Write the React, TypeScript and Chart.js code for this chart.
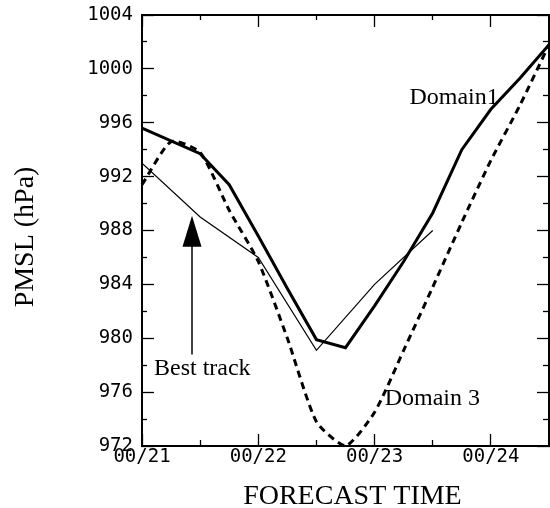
import React, { useEffect, useRef } from "react";
import { Chart, registerables } from "chart.js";

Chart.register(...registerables);

// ---- data ----
const dayTicks = [0, 1, 2, 3];
const tickLabels = ["00/21", "00/22", "00/23", "00/24"];

const domain1Times = [0, 0.5, 0.75, 1, 1.25, 1.5, 1.75, 2, 2.25, 2.5, 2.75, 3, 3.25, 3.5];
const domain1Values = [995.6, 993.7, 991.4, 987.6, 983.7, 979.9, 979.3, 982.4, 985.7, 989.3, 994.0, 997.0, 999.3, 1001.8];

const domain3Times = [0, 0.25, 0.5, 0.75, 1, 1.25, 1.5, 1.75, 2, 2.25, 2.5, 2.75, 3, 3.25, 3.5];
const domain3Values = [991.4, 994.6, 993.8, 989.5, 985.7, 980.0, 973.8, 972.0, 974.5, 979.1, 983.8, 988.6, 993.2, 997.3, 1001.8];

const bestTimes = [0, 0.5, 1, 1.5, 2, 2.5];
const bestValues = [993.0, 989.0, 986.0, 979.1, 984.0, 988.0];

// annotation anchors in data coordinates
const noteTexts = ["Best track", "Domain1", "Domain 3"];
const noteX = [0.103, 2.30, 2.087];
const noteY = [977.3, 997.4, 975.05];
const arrowX = 0.43;
const arrowTip = 989.1;
const arrowTail = 978.8;

const X_MIN = 0, X_MAX = 3.5, Y_MIN = 972, Y_MAX = 1004;

const isInt = (v: any) => typeof v === "number" && Math.abs(v - Math.round(v)) < 1e-6;
const isY4 = (v: any) => typeof v === "number" && Math.abs(v % 4) < 1e-6;

const pts = (xs: number[], ys: number[]) => xs.map((x, i) => ({ x, y: ys[i] }));

const zeroPad = (s: any) => {
  s.paddingLeft = 0;
  s.paddingRight = 0;
  s.paddingTop = 0;
  s.paddingBottom = 0;
};

const annotate = {
  id: "annotate",
  afterDatasetsDraw(chart: any) {
    const { ctx } = chart;
    const xs = chart.scales.x;
    const ys = chart.scales.y;
    ctx.save();
    ctx.fillStyle = "#000";
    ctx.strokeStyle = "#000";
    ctx.font = '24px "Liberation Serif"';
    ctx.textAlign = "left";
    ctx.textBaseline = "alphabetic";
    noteTexts.forEach((t, i) => {
      ctx.fillText(t, xs.getPixelForValue(noteX[i]), ys.getPixelForValue(noteY[i]));
    });
    const ax = xs.getPixelForValue(arrowX);
    const ty = ys.getPixelForValue(arrowTip);
    const by = ys.getPixelForValue(arrowTail);
    ctx.lineWidth = 1.5;
    ctx.beginPath();
    ctx.moveTo(ax, ty + 20);
    ctx.lineTo(ax, by);
    ctx.stroke();
    ctx.beginPath();
    ctx.moveTo(ax, ty);
    ctx.lineTo(ax - 9.5, ty + 31);
    ctx.lineTo(ax + 9.5, ty + 31);
    ctx.closePath();
    ctx.fill();

    // axis titles
    const ca = chart.chartArea;
    ctx.font = '28px "Liberation Serif"';
    ctx.textAlign = "center";
    ctx.fillText("FORECAST TIME", ca.left + ca.width * 0.517, chart.height - 4);
    ctx.save();
    ctx.translate(33, ca.top + ca.height * 0.515);
    ctx.rotate(-Math.PI / 2);
    ctx.fillText("PMSL (hPa)", 0, 0);
    ctx.restore();
    ctx.restore();
  },
};

const tickFont = { family: '"DejaVu Sans Mono"', size: 19 };

export default function App() {
  const ref = useRef<HTMLCanvasElement>(null);
  useEffect(() => {
    const chart = new Chart(ref.current as HTMLCanvasElement, {
      type: "line",
      data: {
        datasets: [
          {
            label: "Domain1",
            data: pts(domain1Times, domain1Values),
            borderColor: "#000",
            borderWidth: 3,
            pointRadius: 0,
            tension: 0,
            fill: false,
          },
          {
            label: "Domain 3",
            data: pts(domain3Times, domain3Values),
            borderColor: "#000",
            borderWidth: 3,
            borderDash: [7, 5],
            pointRadius: 0,
            tension: 0.2,
            fill: false,
            clip: false,
          },
          {
            label: "Best track",
            data: pts(bestTimes, bestValues),
            borderColor: "#000",
            borderWidth: 1.2,
            pointRadius: 0,
            tension: 0,
            fill: false,
          },
        ],
      },
      options: {
        animation: false,
        responsive: false,
        devicePixelRatio: 1,
        layout: { padding: { left: 0, top: 15, right: 1, bottom: 0 } },
        plugins: { legend: { display: false }, tooltip: { enabled: false } },
        scales: {
          x: {
            type: "linear",
            position: "bottom",
            min: X_MIN,
            max: X_MAX,
            ticks: {
              stepSize: 0.5,
              autoSkip: false,
              maxRotation: 0,
              minRotation: 0,
              padding: 12,
              color: "#000",
              font: tickFont,
              callback: (v: any) => {
                const i = dayTicks.indexOf(Number(v));
                return i >= 0 ? tickLabels[i] : "";
              },
            },
            grid: {
              drawOnChartArea: false,
              drawTicks: true,
              tickLength: -12,
              tickColor: "#000",
              tickWidth: 1.3,
              tickBorderDash: (c: any) => (isInt(c.tick?.value) ? [] : [7, 40]),
            },
            border: { display: true, color: "#000", width: 2 },
            afterFit: (s: any) => {
              s.height = 62;
              zeroPad(s);
            },
          },
          xTop: {
            type: "linear",
            position: "top",
            min: X_MIN,
            max: X_MAX,
            ticks: { display: false, stepSize: 0.5, autoSkip: false },
            grid: {
              drawOnChartArea: false,
              drawTicks: true,
              tickLength: -12,
              tickColor: "#000",
              tickWidth: 1.3,
              tickBorderDash: (c: any) => (isInt(c.tick?.value) ? [] : [7, 7]),
              tickBorderDashOffset: (c: any) => (isInt(c.tick?.value) ? 0 : 7),
            },
            border: { display: true, color: "#000", width: 2 },
            afterFit: (s: any) => {
              s.height = 0;
              zeroPad(s);
            },
          },
          y: {
            type: "linear",
            position: "left",
            min: Y_MIN,
            max: Y_MAX,
            ticks: {
              stepSize: 2,
              autoSkip: false,
              padding: 21,
              color: "#000",
              font: tickFont,
              callback: (v: any) => (isY4(Number(v)) ? String(v) : ""),
            },
            grid: {
              drawOnChartArea: false,
              drawTicks: true,
              tickLength: -12,
              tickColor: "#000",
              tickWidth: 1.3,
              tickBorderDash: (c: any) => (isY4(c.tick?.value) ? [] : [7, 7]),
              tickBorderDashOffset: (c: any) => (isY4(c.tick?.value) ? 0 : 7),
            },
            border: { display: true, color: "#000", width: 2 },
            afterFit: (s: any) => {
              s.width = 142;
              zeroPad(s);
            },
          },
          yRight: {
            type: "linear",
            position: "right",
            min: Y_MIN,
            max: Y_MAX,
            ticks: { display: false, stepSize: 2, autoSkip: false },
            grid: {
              drawOnChartArea: false,
              drawTicks: true,
              tickLength: -12,
              tickColor: "#000",
              tickWidth: 1.3,
              tickBorderDash: (c: any) => (isY4(c.tick?.value) ? [] : [7, 40]),
            },
            border: { display: true, color: "#000", width: 2 },
            afterFit: (s: any) => {
              s.width = 0;
              zeroPad(s);
            },
          },
        },
      },
      plugins: [annotate],
    } as any);
    return () => chart.destroy();
  }, []);
  return (
    <div style={{ position: "absolute", left: 0, top: 0, width: 550, height: 508, background: "#fff" }}>
      <canvas ref={ref} width={550} height={508} style={{ display: "block", width: 550, height: 508 }} />
    </div>
  );
}
